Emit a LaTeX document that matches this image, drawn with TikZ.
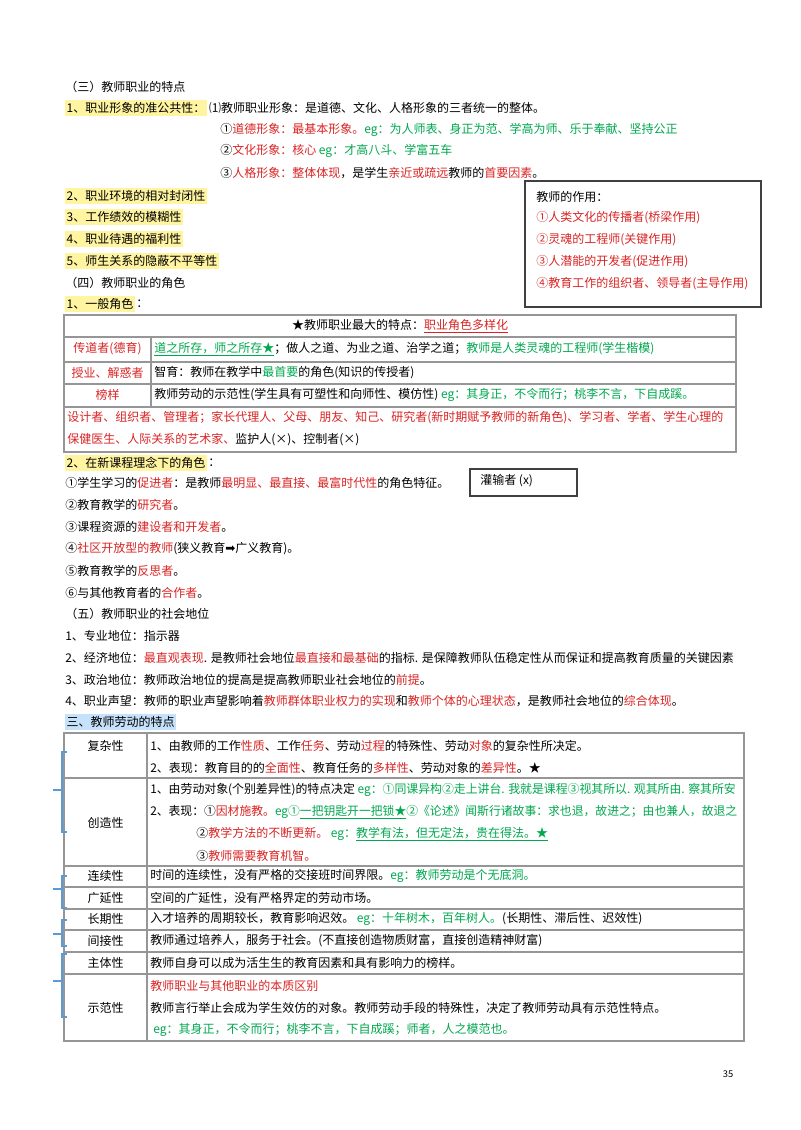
\documentclass[tikz,border=0pt]{standalone}
\usepackage{fontspec}
\setmainfont{Noto Sans CJK SC}
\newfontfamily\djv{DejaVu Sans}
\definecolor{myred}{RGB}{218,36,36}
\definecolor{mygreen}{RGB}{0,168,80}
\definecolor{hly}{RGB}{255,244,160}
\definecolor{hlb}{RGB}{198,226,250}
\definecolor{brc}{RGB}{91,155,213}
\definecolor{tgray}{RGB}{150,150,150}
\newcommand\myR[1]{\textcolor{myred}{#1}}
\newcommand\myG[1]{\textcolor{mygreen}{#1}}
\newcommand\fsz{\fontsize{9}{11}\selectfont}
\tikzset{
  tx/.style={anchor=west,inner sep=0pt,font=\fsz},
  tc/.style={anchor=center,inner sep=0pt,font=\fsz},
  hlY/.style={fill=hly,inner xsep=1pt,inner ysep=2pt},
  hlB/.style={fill=hlb,inner xsep=1pt,inner ysep=2pt},
  tline/.style={draw=tgray,line width=0.9pt},
  boxline/.style={draw=black!75,line width=0.9pt},
  brace/.style={draw=brc,line width=1.2pt}
}
\begin{document}
\begin{tikzpicture}[x=0.75pt,y=-0.75pt]
\useasboundingbox (0,0) rectangle (800,1130);
\fill[white] (0,0) rectangle (800,1130);

% ---- Section (三)
\node[tx] (s3) at (65,87) {（三）教师职业的特点};
\node[tx,hlY] (a1) at (65,108) {1、职业形象的准公共性：};
\node[tx] (a1b) at ([xshift=1.5pt]a1.east) {⑴教师职业形象：是道德、文化、人格形象的三者统一的整体。};
\node[tx] (a1c) at (220,130) {①\myR{道德形象：最基本形象。}\myG{eg：为人师表、身正为范、学高为师、乐于奉献、坚持公正}};
\node[tx] (a1d) at (220,151) {②\myR{文化形象：核心 }\myG{eg：才高八斗、学富五车}};
\node[tx] (a1e) at (220,173) {③\myR{人格形象：整体体现}，是学生\myR{亲近或疏远}教师的\myR{首要因素}。};
\node[tx,hlY] (a2) at (65,196) {2、职业环境的相对封闭性};
\node[tx,hlY] (a3) at (65,217) {3、工作绩效的模糊性};
\node[tx,hlY] (a4) at (65,239) {4、职业待遇的福利性};
\node[tx,hlY] (a5) at (65,261) {5、师生关系的隐蔽不平等性};

% ---- role box
\draw[boxline] (525,181) rectangle (761,307);
\node[tx] (r0) at (536,197) {教师的作用：};
\node[tx] (r1) at (536,218) {\myR{①人类文化的传播者(桥梁作用)}};
\node[tx] (r2) at (536,240) {\myR{②灵魂的工程师(关键作用)}};
\node[tx] (r3) at (536,262) {\myR{③人潜能的开发者(促进作用)}};
\node[tx] (r4) at (536,284) {\myR{④教育工作的组织者、领导者(主导作用)}};

% ---- Section (四)
\node[tx] (s4) at (65,283) {（四）教师职业的角色};
\node[tx,hlY] (b1) at (65,304) {1、一般角色};
\node[tx] (b1b) at ([xshift=1pt]b1.east) {：};

% ---- table 1
\draw[tline] (64,315) rectangle (736,452);
\draw[tline] (64,337) -- (736,337);
\draw[tline] (64,362) -- (736,362);
\draw[tline] (64,384) -- (736,384);
\draw[tline] (64,407) -- (736,407);
\draw[tline] (151,337) -- (151,407);
\node[tc] (th) at (400,326) {★教师职业最大的特点：\myR{\underline{职业角色多样化}}};
\node[tc] (c11) at (107.5,349) {\myR{传道者(德育)}};
\node[tc] (c21) at (107.5,373) {\myR{授业、解惑者}};
\node[tc] (c31) at (107.5,395) {\myR{榜样}};
\node[tx] (c12) at (154,349) {\myG{\underline{道之所存，师之所存★}}；做人之道、为业之道、治学之道；\myG{教师是人类灵魂的工程师(学生楷模)}};
\node[tx] (c22) at (154,373) {智育：教师在教学中\myG{最首要}的角色(知识的传授者)};
\node[tx] (c32) at (154,395) {教师劳动的示范性(学生具有可塑性和向师性、模仿性) \myG{eg：其身正，不令而行；桃李不言，下自成蹊。}};
\node[tx] (c41) at (67,418) {\myR{设计者、组织者、管理者；家长代理人、父母、朋友、知己、研究者(新时期赋予教师的新角色)、学习者、学者、学生心理的}};
\node[tx] (c42) at (67,440) {\myR{保健医生、人际关系的艺术家、}监护人(×)、控制者(×)};

% ---- new curriculum roles
\node[tx,hlY] (d0) at (65,463) {2、在新课程理念下的角色};
\node[tx] (d0b) at ([xshift=1pt]d0.east) {：};
\node[tx] (d1) at (65,483) {①学生学习的\myR{促进者}：是教师\myR{最明显、最直接、最富时代性}的角色特征。};
\draw[boxline] (470,469) rectangle (577,496);
\node[tx] (gsz) at (480,481) {灌输者 (x)};
\node[tx] (d2) at (65,505) {②教育教学的\myR{研究者}。};
\node[tx] (d3) at (65,527) {③课程资源的\myR{建设者和开发者}。};
\node[tx] (d4) at (65,549) {④\myR{社区开放型的教师}(狭义教育{\djv ➡}广义教育)。};
\node[tx] (d5) at (65,571) {⑤教育教学的\myR{反思者}。};
\node[tx] (d6) at (65,593) {⑥与其他教育者的\myR{合作者}。};

% ---- Section (五)
\node[tx] (s5) at (65,614) {（五）教师职业的社会地位};
\node[tx] (e1) at (65,636) {1、专业地位：指示器};
\node[tx] (e2) at (65,658) {2、经济地位：\myR{最直观表现}. 是教师社会地位\myR{最直接和最基础}的指标. 是保障教师队伍稳定性从而保证和提高教育质量的关键因素};
\node[tx] (e3) at (65,680) {3、政治地位：教师政治地位的提高是提高教师职业社会地位的\myR{前提}。};
\node[tx] (e4) at (65,701) {4、职业声望：教师的职业声望影响着\myR{教师群体职业权力的实现}和\myR{教师个体的心理状态}，是教师社会地位的\myR{综合体现}。};

% ---- Section 三
\node[tx,hlB] (f0) at (65,722) {三、教师劳动的特点};

% ---- table 2
\draw[tline] (64,733) rectangle (744,1041);
\foreach \yy in {778,866,887,909,930,952,974} \draw[tline] (64,\yy) -- (744,\yy);
\draw[tline] (147,733) -- (147,1041);

\node[tc] (g1) at (105.5,746) {复杂性};
\node[tc] (g2) at (105.5,823) {创造性};
\node[tc] (g3) at (105.5,876) {连续性};
\node[tc] (g4) at (105.5,898) {广延性};
\node[tc] (g5) at (105.5,919) {长期性};
\node[tc] (g6) at (105.5,941) {间接性};
\node[tc] (g7) at (105.5,963) {主体性};
\node[tc] (g8) at (105.5,1008) {示范性};

\node[tx] (h11) at (150,746) {1、由教师的工作\myR{性质}、工作\myR{任务}、劳动\myR{过程}的特殊性、劳动\myR{对象}的复杂性所决定。};
\node[tx] (h12) at (150,768) {2、表现：教育目的的\myR{全面性}、教育任务的\myR{多样性}、劳动对象的\myR{差异性}。★};
\node[tx] (h21) at (150,790) {\scalebox{0.99}[1]{1、由劳动对象(个别差异性)的特点决定 \myG{eg：①同课异构②走上讲台. 我就是课程③视其所以. 观其所由. 察其所安}}};
\node[tx] (h22) at (150,812) {\scalebox{0.985}[1]{2、表现：①\myR{因材施教。}\myG{eg①\underline{一把钥匙开一把锁★}②《论述》闻斯行诸故事：求也退，故进之；由也兼人，故退之}}};
\node[tx] (h23) at (196,834) {②\myR{教学方法的不断更新。} \myG{eg：\underline{教学有法，但无定法，贵在得法。★}}};
\node[tx] (h24) at (196,856) {③\myR{教师需要教育机智。}};
\node[tx] (h3) at (150,876) {时间的连续性，没有严格的交接班时间界限。\myG{eg：教师劳动是个无底洞。}};
\node[tx] (h4) at (150,898) {空间的广延性，没有严格界定的劳动市场。};
\node[tx] (h5) at (150,919) {入才培养的周期较长，教育影响迟效。 \myG{eg：十年树木，百年树人。}(长期性、滞后性、迟效性)};
\node[tx] (h6) at (150,941) {教师通过培养人，服务于社会。(不直接创造物质财富，直接创造精神财富)};
\node[tx] (h7) at (150,963) {教师自身可以成为活生生的教育因素和具有影响力的榜样。};
\node[tx] (h81) at (150,986) {\myR{教师职业与其他职业的本质区别}};
\node[tx] (h82) at (150,1008) {教师言行举止会成为学生效仿的对象。教师劳动手段的特殊性，决定了教师劳动具有示范性特点。};
\node[tx] (h83) at (153,1030) {\myG{eg：其身正，不令而行；桃李不言，下自成蹊；师者，人之模范也。}};

% ---- braces
\draw[brace] (67,752) -- (62,752) -- (62,832) -- (67,832);
\draw[brace] (53,790) -- (62,790);
\draw[brace] (67,876) -- (62,876) -- (62,908) -- (67,908);
\draw[brace] (53,889) -- (62,889);
\draw[brace] (67,920) -- (62,920) -- (62,946) -- (67,946);
\draw[brace] (53,934) -- (62,934);
\draw[brace] (67,954) -- (62,954) -- (62,1017) -- (67,1017);
\draw[brace] (53,981) -- (62,981);

% ---- page number
\node[tc,font=\fontsize{7}{8}\selectfont] (pg) at (728,1074) {35};
\end{tikzpicture}
\end{document}
